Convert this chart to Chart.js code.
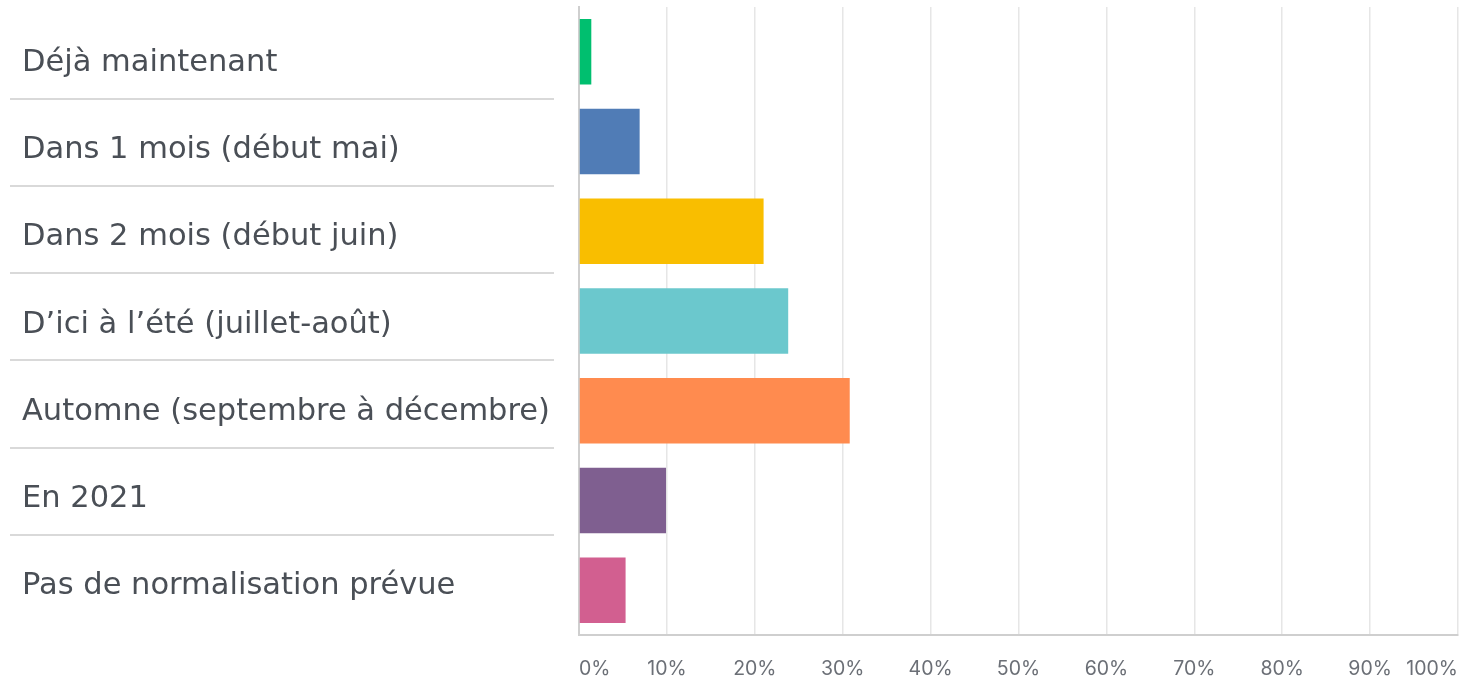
<!DOCTYPE html>
<html lang="fr">
<head>
<meta charset="utf-8">
<title>Normalisation</title>
<script src="https://cdn.jsdelivr.net/npm/chart.js@4/dist/chart.umd.min.js"></script>
<style>
  html, body { margin: 0; padding: 0; background: #fff; }
  #wrap { width: 1468px; height: 677px; }
</style>
</head>
<body>
<div id="wrap"><canvas id="chart"></canvas></div>
<script>
// données (% des réponses)
const categories = [
  'Déjà maintenant',
  'Dans 1 mois (début mai)',
  'Dans 2 mois (début juin)',
  'D’ici à l’été (juillet-août)',
  'Automne (septembre à décembre)',
  'En 2021',
  'Pas de normalisation prévue'
];
const values = [1.4, 6.9, 21.0, 23.8, 30.8, 9.9, 5.3];
const barColors = ['#00bf6f', '#507cb6', '#f9be00', '#6bc8cd', '#ff8b4f', '#7f5f90', '#d25f90'];
const xTicks = [0, 10, 20, 30, 40, 50, 60, 70, 80, 90, 100];

// la colonne des libellés a son propre pas (un peu plus serré que les barres)
const rowMin = -0.645;
const rowMax = 6.56;

// séparateurs gris entre les libellés, calés sur l'axe des libellés
const separators = {
  id: 'separators',
  afterDraw(chart) {
    const rows = chart.scales.rows;
    const ctx = chart.ctx;
    ctx.save();
    ctx.strokeStyle = '#d9d9d9';
    ctx.lineWidth = 2;
    for (let i = 0; i < categories.length - 1; i++) {
      const py = Math.round(rows.getPixelForValue(i + 0.41));
      ctx.beginPath();
      ctx.moveTo(10, py);
      ctx.lineTo(554, py);
      ctx.stroke();
    }
    ctx.restore();
  }
};

new Chart(document.getElementById('chart'), {
  type: 'bar',
  data: {
    labels: categories,
    datasets: [{
      data: values,
      backgroundColor: barColors,
      borderWidth: 0,
      barPercentage: 0.73,
      categoryPercentage: 1
    }]
  },
  options: {
    indexAxis: 'y',
    responsive: true,
    maintainAspectRatio: false,
    animation: false,
    layout: { padding: { top: 7, right: 10, left: 22, bottom: 0 } },
    plugins: { legend: { display: false }, tooltip: { enabled: false } },
    scales: {
      x: {
        min: 0, max: 100,
        afterBuildTicks: (s) => { s.ticks = xTicks.map(v => ({ value: v })); },
        afterFit: (s) => { s.height = 42; s.paddingLeft = 0; s.paddingRight = 0; },
        grid: { color: '#e6e6e6', lineWidth: 1.5, drawTicks: false },
        border: { color: '#cfcfcf', width: 2 },
        ticks: {
          align: 'inner',
          padding: 22,
          color: '#6b6f76',
          font: { family: 'Inter', size: 19.5 },
          callback: (v) => v + '%'
        }
      },
      y: {
        weight: 0,
        afterFit: (s) => { s.width = 0; s.paddingTop = 0; s.paddingBottom = 0; },
        grid: { display: false, drawTicks: false },
        border: { color: '#cfcfcf', width: 2 },
        ticks: { display: false }
      },
      rows: {
        type: 'linear',
        position: 'left',
        weight: 1,
        reverse: true,
        offset: false,
        bounds: 'data',
        min: rowMin,
        max: rowMax,
        afterBuildTicks: (s) => { s.ticks = categories.map((_, i) => ({ value: i })); },
        afterFit: (s) => { s.width = 557; s.paddingTop = 0; s.paddingBottom = 0; },
        grid: { display: false, drawTicks: false },
        border: { display: false },
        ticks: {
          crossAlign: 'far',
          color: '#4a4f56',
          font: { family: 'DejaVu Sans', size: 30.5 },
          callback: (v) => categories[v]
        }
      }
    }
  },
  plugins: [separators]
});
</script>
</body>
</html>
